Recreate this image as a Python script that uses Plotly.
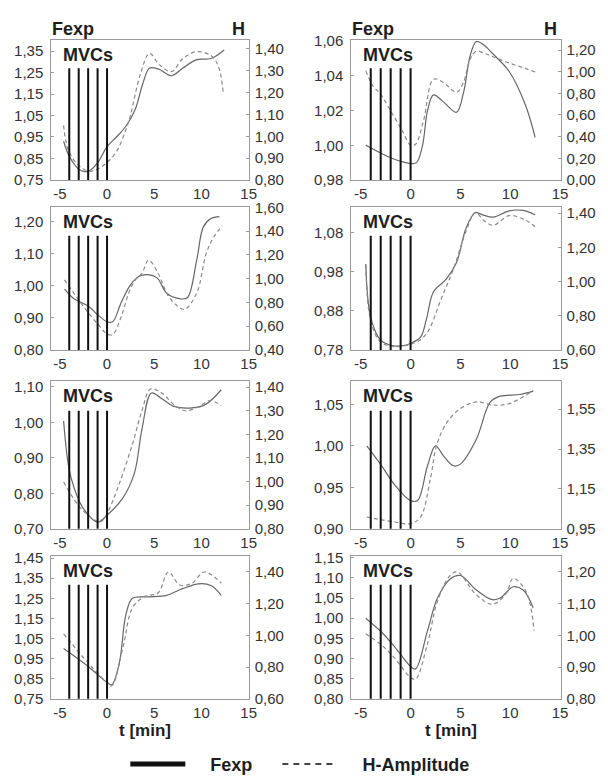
import plotly.graph_objects as go
from plotly.subplots import make_subplots

# ---------------- data ----------------
mvc_times = [-4, -3, -2, -1, 0]
x_tick_vals = [-5, 0, 5, 10, 15]
x_tick_labels = ["-5", "0", "5", "10", "15"]

# Panel L1 (row 1, col 1)
t_L1_F = [-4.6, -4.0, -3.0, -2.5, -2.0, -1.0, 0.0, 1.0, 2.0, 3.0, 3.8, 4.5, 5.5, 6.8, 8.0, 9.5, 11.0, 12.4]
F_L1 = [0.93, 0.86, 0.80, 0.79, 0.79, 0.83, 0.905, 0.95, 1.00, 1.08, 1.20, 1.27, 1.265, 1.235, 1.27, 1.31, 1.315, 1.355]
t_L1_H = [-4.6, -4.2, -3.5, -2.5, -1.8, -1.0, 0.0, 1.0, 2.0, 2.5, 3.5, 4.5, 5.5, 6.8, 8.0, 9.5, 11.0, 11.8, 12.3]
H_L1 = [1.05, 0.95, 0.89, 0.85, 0.84, 0.85, 0.88, 0.93, 1.03, 1.10, 1.28, 1.38, 1.33, 1.296, 1.355, 1.388, 1.37, 1.32, 1.20]

# Panel R1 (row 1, col 2)
t_R1_F = [-4.5, -3.0, -2.0, -1.0, 0.0, 0.6, 1.2, 1.7, 2.3, 3.3, 4.6, 5.3, 6.0, 6.6, 7.3, 8.2, 9.9, 11.5, 12.5]
F_R1 = [1.000, 0.9955, 0.9928, 0.9908, 0.9895, 0.990, 1.000, 1.020, 1.029, 1.025, 1.019, 1.030, 1.052, 1.0598, 1.058, 1.053, 1.0425, 1.0236, 1.0046]
t_R1_H = [-4.5, -3.8, -3.0, -1.7, -0.8, 0.0, 0.5, 1.3, 2.3, 3.3, 4.6, 5.3, 6.0, 6.6, 7.4, 8.2, 9.9, 11.5, 12.7]
H_R1 = [1.01, 0.87, 0.79, 0.59, 0.45, 0.32, 0.33, 0.55, 0.93, 0.90, 0.81, 0.90, 1.12, 1.19, 1.17, 1.14, 1.08, 1.03, 0.99]

# Panel L2 (row 2, col 1)
t_L2_F = [-4.5, -3.5, -2.0, -1.0, 0.0, 0.6, 1.5, 2.5, 3.4, 4.3, 5.3, 6.3, 7.7, 8.5, 9.5, 10.2, 11.0, 11.9]
F_L2 = [0.99, 0.96, 0.937, 0.91, 0.888, 0.888, 0.948, 1.004, 1.03, 1.035, 1.025, 0.978, 0.96, 0.963, 1.081, 1.184, 1.21, 1.216]
t_L2_H = [-4.5, -3.0, -2.0, -1.0, 0.0, 0.6, 1.5, 2.3, 3.0, 3.7, 4.4, 5.4, 6.4, 7.3, 8.2, 9.5, 10.5, 11.3, 12.2]
H_L2 = [0.99, 0.82, 0.715, 0.62, 0.535, 0.53, 0.68, 0.88, 0.99, 1.046, 1.156, 1.046, 0.866, 0.78, 0.742, 0.88, 1.211, 1.35, 1.445]

# Panel R2 (row 2, col 2)
t_R2_F = [-4.5, -4.0, -3.0, -2.0, -1.5, -0.5, 0.0, 1.0, 1.6, 2.3, 3.6, 4.6, 5.6, 6.5, 7.3, 8.3, 9.9, 11.3, 12.5]
F_R2 = [1.0, 0.863, 0.805, 0.792, 0.79, 0.792, 0.797, 0.813, 0.86, 0.929, 0.962, 1.003, 1.094, 1.131, 1.125, 1.12, 1.136, 1.137, 1.126]
t_R2_H = [-4.5, -4.0, -3.0, -1.5, 0.0, 1.0, 1.8, 3.1, 4.3, 5.6, 6.5, 7.3, 8.3, 9.9, 11.6, 12.5]
H_R2 = [1.10, 0.77, 0.647, 0.619, 0.634, 0.66, 0.714, 0.903, 1.073, 1.30, 1.405, 1.36, 1.329, 1.386, 1.357, 1.32]

# Panel L3 (row 3, col 1)
t_L3_F = [-4.6, -4.2, -3.8, -2.6, -1.0, 0.0, 1.7, 2.9, 3.7, 4.7, 5.7, 7.0, 9.0, 10.4, 12.1]
F_L3 = [1.004, 0.90, 0.843, 0.761, 0.719, 0.738, 0.788, 0.857, 0.981, 1.083, 1.069, 1.046, 1.041, 1.05, 1.092]
t_L3_H = [-4.6, -2.6, -0.7, 0.0, 1.3, 2.7, 3.7, 4.6, 5.7, 7.2, 8.3, 9.6, 10.9, 12.1]
H_L3 = [0.998, 0.879, 0.83, 0.865, 0.991, 1.16, 1.30, 1.392, 1.378, 1.322, 1.30, 1.315, 1.343, 1.322]

# Panel R3 (row 3, col 2)
t_R3_F = [-4.4, -2.9, -1.6, 0.0, 0.7, 1.7, 2.5, 3.3, 4.3, 5.0, 6.6, 8.0, 9.0, 11.0, 12.3]
F_R3 = [1.0, 0.976, 0.953, 0.934, 0.934, 0.976, 1.0, 0.988, 0.976, 0.978, 1.008, 1.053, 1.06, 1.062, 1.066]
t_R3_H = [-4.4, -1.6, 0.0, 1.0, 2.0, 2.6, 3.6, 5.0, 6.6, 8.3, 9.9, 12.3]
H_R3 = [1.009, 0.984, 0.976, 1.009, 1.204, 1.366, 1.48, 1.553, 1.586, 1.57, 1.578, 1.643]

# Panel L4 (row 4, col 1)
t_L4_F = [-4.6, -2.0, 0.0, 0.5, 1.3, 2.0, 2.7, 4.3, 6.3, 8.0, 9.7, 11.0, 12.1]
F_L4 = [1.0, 0.911, 0.831, 0.82, 0.927, 1.169, 1.25, 1.257, 1.265, 1.298, 1.322, 1.314, 1.265]
t_L4_H = [-4.6, -2.0, 0.0, 0.5, 1.7, 2.7, 4.0, 5.4, 6.5, 7.7, 9.0, 10.3, 12.1]
H_L4 = [1.01, 0.826, 0.703, 0.682, 0.928, 1.175, 1.246, 1.267, 1.40, 1.318, 1.329, 1.40, 1.329]

# Panel R4 (row 4, col 2)
t_R4_F = [-4.5, -2.9, -1.6, 0.0, 0.5, 1.7, 2.7, 4.0, 5.0, 6.6, 8.2, 9.0, 10.3, 11.3, 12.3]
F_R4 = [1.0, 0.965, 0.929, 0.88, 0.874, 0.969, 1.05, 1.098, 1.106, 1.07, 1.046, 1.05, 1.078, 1.07, 1.026]
t_R4_H = [-4.5, -2.9, -1.6, 0.0, 0.5, 1.7, 2.7, 4.0, 4.7, 6.6, 8.2, 9.6, 10.3, 11.6, 12.4]
H_R4 = [1.005, 0.969, 0.928, 0.867, 0.862, 0.974, 1.108, 1.19, 1.20, 1.128, 1.098, 1.133, 1.18, 1.138, 1.015]

# axis ticks (left = Fexp, right = H)
ticks_L1_left = [0.75, 0.85, 0.95, 1.05, 1.15, 1.25, 1.35]
ticks_L1_right = [0.80, 0.90, 1.00, 1.10, 1.20, 1.30, 1.40]
ticks_R1_left = [0.98, 1.00, 1.02, 1.04, 1.06]
ticks_R1_right = [0.00, 0.20, 0.40, 0.60, 0.80, 1.00, 1.20]
ticks_L2_left = [0.80, 0.90, 1.00, 1.10, 1.20]
ticks_L2_right = [0.40, 0.60, 0.80, 1.00, 1.20, 1.40, 1.60]
ticks_R2_left = [0.78, 0.88, 0.98, 1.08]
ticks_R2_right = [0.60, 0.80, 1.00, 1.20, 1.40]
ticks_L3_left = [0.70, 0.80, 0.90, 1.00, 1.10]
ticks_L3_right = [0.80, 0.90, 1.00, 1.10, 1.20, 1.30, 1.40]
ticks_R3_left = [0.90, 0.95, 1.00, 1.05]
ticks_R3_right = [0.95, 1.15, 1.35, 1.55]
ticks_L4_left = [0.75, 0.85, 0.95, 1.05, 1.15, 1.25, 1.35, 1.45]
ticks_L4_right = [0.60, 0.80, 1.00, 1.20, 1.40]
ticks_R4_left = [0.80, 0.85, 0.90, 0.95, 1.00, 1.05, 1.10, 1.15]
ticks_R4_right = [0.80, 0.90, 1.00, 1.10, 1.20]

# ---------------- layout geometry ----------------
W, H = 608, 783
col_px = {1: (52, 252), 2: (356, 568)}
row_px = {1: (32, 175), 2: (203, 349), 3: (381, 532), 4: (560, 706)}
x_range = {1: [-5.9, 15.0], 2: [-5.95, 15.05]}

panels = [
    (1, 1, t_L1_F, F_L1, t_L1_H, H_L1, [0.75, 1.40], [0.80, 1.44], ticks_L1_left, ticks_L1_right),
    (1, 2, t_R1_F, F_R1, t_R1_H, H_R1, [0.98, 1.0605], [0.0, 1.29], ticks_R1_left, ticks_R1_right),
    (2, 1, t_L2_F, F_L2, t_L2_H, H_L2, [0.80, 1.245], [0.40, 1.60], ticks_L2_left, ticks_L2_right),
    (2, 2, t_R2_F, F_R2, t_R2_H, H_R2, [0.78, 1.145], [0.60, 1.434], ticks_R2_left, ticks_R2_right),
    (3, 1, t_L3_F, F_L3, t_L3_H, H_L3, [0.70, 1.116], [0.80, 1.425], ticks_L3_left, ticks_L3_right),
    (3, 2, t_R3_F, F_R3, t_R3_H, H_R3, [0.90, 1.078], [0.95, 1.69], ticks_R3_left, ticks_R3_right),
    (4, 1, t_L4_F, F_L4, t_L4_H, H_L4, [0.75, 1.46], [0.60, 1.50], ticks_L4_left, ticks_L4_right),
    (4, 2, t_R4_F, F_R4, t_R4_H, H_R4, [0.80, 1.154], [0.80, 1.25], ticks_R4_left, ticks_R4_right),
]

FONT = "Arial, Liberation Sans, sans-serif"
FRAME = "#9a9a9a"
TXT = "#333333"
DARK = "#1e1e1e"


def lbl(v):
    return f"{v:.2f}".replace(".", ",")


fig = make_subplots(rows=4, cols=2, specs=[[{"secondary_y": True}] * 2] * 4)

for (r, c, tf, fv, th, hv, yl, yr, tl, tr) in panels:
    fig.add_trace(go.Scatter(x=tf, y=fv, mode="lines", name="Fexp",
                             line=dict(color="#666666", width=1.2, shape="spline", smoothing=1.0),
                             showlegend=False, hoverinfo="skip"), row=r, col=c, secondary_y=False)
    fig.add_trace(go.Scatter(x=th, y=hv, mode="lines", name="H-Amplitude",
                             line=dict(color="#8a8a8a", width=1.2, dash="4px,3px", shape="spline", smoothing=1.0),
                             showlegend=False, hoverinfo="skip"), row=r, col=c, secondary_y=True)
    x0, x1 = col_px[c]
    top, bot = row_px[r]
    fig.update_xaxes(domain=[x0 / W, x1 / W], range=x_range[c], tickvals=x_tick_vals, ticktext=x_tick_labels,
                     showline=True, mirror=True, linecolor=FRAME, linewidth=1, showgrid=False, zeroline=False,
                     ticks="", tickfont=dict(family=FONT, size=15, color=TXT), row=r, col=c)
    fig.update_yaxes(domain=[1 - bot / H, 1 - top / H], range=yl, tickvals=tl, ticktext=[lbl(v) for v in tl],
                     showline=True, linecolor=FRAME, linewidth=1, showgrid=False, zeroline=False,
                     ticks="inside", ticklen=3, tickcolor=FRAME, ticklabelstandoff=4,
                     tickfont=dict(family=FONT, size=15, color=TXT), row=r, col=c, secondary_y=False)
    fig.update_yaxes(range=yr, tickvals=tr, ticktext=[lbl(v) for v in tr],
                     showline=True, linecolor=FRAME, linewidth=1, showgrid=False, zeroline=False,
                     ticks="inside", ticklen=3, tickcolor=FRAME, ticklabelstandoff=2,
                     tickfont=dict(family=FONT, size=15, color=TXT), row=r, col=c, secondary_y=True)
    # MVC markers
    sp = fig.get_subplot(r, c)
    xref = sp.xaxis.plotly_name.replace("axis", "")
    yref = sp.yaxis.plotly_name.replace("axis", "")
    for tm in mvc_times:
        fig.add_shape(type="line", xref=xref, yref=yref + " domain", x0=tm, x1=tm, y0=0, y1=0.80,
                      line=dict(color="#111111", width=2))
    fig.add_annotation(text="<b>MVCs</b>", xref="paper", yref="paper", x=(x0 + 10) / W, y=1 - (top + 15) / H,
                       xanchor="left", yanchor="middle", showarrow=False, font=dict(family=FONT, size=18, color=DARK))

# column headers and axis titles
for c in (1, 2):
    x0, x1 = col_px[c]
    fig.add_annotation(text="<b>Fexp</b>", xref="paper", yref="paper", x=(x0 - 1) / W, y=1 - 20 / H, xanchor="left",
                       yanchor="middle", showarrow=False, font=dict(family=FONT, size=18, color=DARK))
    fig.add_annotation(text="<b>H</b>", xref="paper", yref="paper", x=(x1 - 2) / W, y=1 - 20 / H, xanchor="right",
                       yanchor="middle", showarrow=False, font=dict(family=FONT, size=18, color=DARK))
    fig.add_annotation(text="<b>t [min]</b>", xref="paper", yref="paper", x=((x0 + x1) / 2 - 5) / W, y=1 - 738 / H,
                       xanchor="center", yanchor="middle", showarrow=False, font=dict(family=FONT, size=17, color=DARK))

# legend entries
NB = "\u00a0"
fig.add_trace(go.Scatter(x=[None], y=[None], mode="lines", name=NB * 4 + "<b>Fexp</b>" + NB * 4,
                         line=dict(color="#111", width=5)), row=1, col=1)
fig.add_trace(go.Scatter(x=[None], y=[None], mode="lines", name=NB * 4 + "<b>H-Amplitude</b>",
                         line=dict(color="#444", width=2, dash="6px,5px")), row=1, col=1)

fig.update_layout(
    width=W, height=H, autosize=False,
    margin=dict(l=0, r=0, t=0, b=0),
    paper_bgcolor="white", plot_bgcolor="white",
    showlegend=True,
    legend=dict(orientation="h", x=127 / W, y=1 - 773 / H, xanchor="left", yanchor="middle",
                font=dict(family=FONT, size=18, color=DARK), itemwidth=55, bgcolor="rgba(0,0,0,0)"),
)

fig.write_html("out.html", config={"displayModeBar": False},
               post_script="document.body.style.margin='0';document.documentElement.style.overflow='hidden';")
